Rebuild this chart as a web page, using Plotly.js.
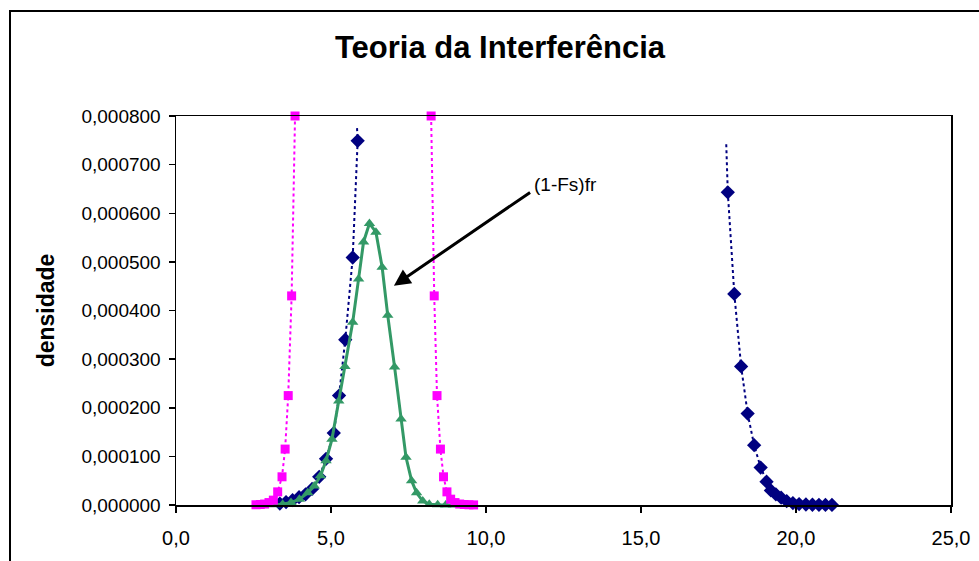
<!DOCTYPE html>
<html>
<head>
<meta charset="utf-8">
<script src="https://cdn.plot.ly/plotly-3.0.1.min.js"></script>
<style>
  html, body { margin: 0; padding: 0; background: #fff; }
  #chart { width: 979px; height: 561px; }
</style>
</head>
<body>
<div id="chart"></div>
<script>
// ---- Data ----
const chartTitle = "Teoria da Interferência";
const yTitle = "densidade";
const annotationText = "(1-Fs)fr";

// Pink series (squares, dotted) - left and right flanks (peak is off-scale)
const pinkLeftX  = [2.58, 2.72, 2.86, 3.00, 3.14, 3.28, 3.42, 3.52, 3.62, 3.73, 3.84];
const pinkLeftY  = [0.0000005, 0.000001, 0.000002, 0.000005, 0.000010, 0.000027, 0.000058, 0.000115, 0.000225, 0.000430, 0.000800];
const pinkRightX = [8.23, 8.33, 8.42, 8.53, 8.63, 8.74, 8.86, 9.00, 9.15, 9.30, 9.45, 9.60];
const pinkRightY = [0.000800, 0.000430, 0.000225, 0.000115, 0.000058, 0.000027, 0.000012, 0.000005, 0.000002, 0.000001, 0.0000005, 0.0000002];

// Navy series (diamonds, dotted) - left flank and right tail
const blueLeftX  = [3.35, 3.55, 3.76, 3.97, 4.18, 4.39, 4.62, 4.84, 5.09, 5.26, 5.46, 5.70, 5.86];
const blueLeftY  = [0.000003, 0.000006, 0.000010, 0.000016, 0.000022, 0.000033, 0.000058, 0.000095, 0.000148, 0.000225, 0.000340, 0.000509, 0.000749];
const blueRightX = [17.80, 18.01, 18.23, 18.44, 18.65, 18.86, 19.05, 19.19, 19.35, 19.52, 19.70, 19.90, 20.10, 20.32, 20.53, 20.74, 20.95, 21.16];
const blueRightY = [0.000643, 0.000434, 0.000285, 0.000188, 0.000123, 0.000077, 0.000048, 0.000030, 0.000022, 0.000015, 0.000008, 0.000004, 0.000002, 0.000001, 0.0000005, 0.0000003, 0.0000002, 0.0000001];
// where the dotted navy line ends above the outermost markers
const blueTopX = [5.84, 17.75];
const blueTopY = [0.000775, 0.000742];

// Green series (1-Fs)fr (triangles, solid)
const greenX = [3.20, 3.44, 3.71, 3.98, 4.25, 4.46, 4.66, 4.84, 5.03, 5.25, 5.45, 5.70, 5.89, 6.05, 6.24, 6.45, 6.65, 6.83, 7.05, 7.26, 7.42, 7.60, 7.76, 7.96, 8.17, 8.44, 8.70, 8.95];
const greenY = [0.0000005, 0.0000015, 0.000005, 0.000012, 0.000025, 0.000039, 0.000060, 0.000091, 0.000135, 0.000214, 0.000285, 0.000376, 0.000465, 0.000541, 0.000579, 0.000561, 0.000489, 0.000390, 0.000284, 0.000177, 0.000098, 0.000050, 0.000025, 0.000008, 0.0000015, 0.0000005, 0.0000002, 0.0000001];

// Axis ticks
const xTicks = [0, 5, 10, 15, 20, 25];
const yTicks = [0, 0.0001, 0.0002, 0.0003, 0.0004, 0.0005, 0.0006, 0.0007, 0.0008];

// Annotation arrow: head and tail (data coords)
const arrowHead = [7.03, 0.000451];
const arrowTail = [11.47, 0.000645];

// ---- Build traces ----
const FONT = "Arial, 'Liberation Sans', sans-serif";
const navy = "#000080", pink = "#FF00FF", green = "#339966";

const traces = [
  { // navy dotted line (with line ends above the markers)
    x: [blueTopX[0]].concat(blueLeftX.slice().reverse(), [null], [blueTopX[1]], blueRightX),
    y: [blueTopY[0]].concat(blueLeftY.slice().reverse(), [null], [blueTopY[1]], blueRightY),
    mode: "lines", type: "scatter", connectgaps: false,
    line: { color: navy, width: 2, dash: "dot" }, hoverinfo: "skip"
  },
  { // navy diamonds
    x: blueLeftX.concat(blueRightX), y: blueLeftY.concat(blueRightY),
    mode: "markers", type: "scatter", cliponaxis: false,
    marker: { symbol: "diamond", size: 11, color: navy }
  },
  { // green
    x: greenX, y: greenY, mode: "lines+markers", type: "scatter", cliponaxis: false,
    line: { color: green, width: 3 },
    marker: { symbol: "triangle-up", size: 10, color: green }
  },
  { // pink
    x: pinkLeftX.concat([null], pinkRightX), y: pinkLeftY.concat([null], pinkRightY),
    mode: "lines+markers", type: "scatter", connectgaps: false, cliponaxis: false,
    line: { color: pink, width: 2, dash: "dot" },
    marker: { symbol: "square", size: 9, color: pink }
  }
];

const layout = {
  width: 979, height: 561,
  margin: { l: 176, r: 28, t: 116, b: 56, pad: 0 },
  paper_bgcolor: "#ffffff", plot_bgcolor: "#ffffff",
  showlegend: false,
  separators: ",.",
  font: { family: FONT, size: 19, color: "#000" },
  title: {
    text: "<b>" + chartTitle + "</b>",
    font: { family: FONT, size: 31, color: "#000" },
    xref: "container", yref: "container",
    x: 500 / 979, y: 1 - 47 / 561, xanchor: "center", yanchor: "middle"
  },
  xaxis: {
    range: [0, 25], tickvals: xTicks, tickformat: ".1f",
    showgrid: false, zeroline: false,
    showline: true, linecolor: "#000", linewidth: 1.5, mirror: true,
    ticks: "outside", ticklen: 6, tickwidth: 1.5, tickcolor: "#000",
    ticklabelstandoff: 8,
    tickfont: { family: FONT, size: 20, color: "#000" }
  },
  yaxis: {
    range: [0, 0.0008], tickvals: yTicks, tickformat: ".6f",
    showgrid: false, zeroline: false,
    showline: true, linecolor: "#000", linewidth: 1.5, mirror: true,
    ticks: "outside", ticklen: 6, tickwidth: 1.5, tickcolor: "#000",
    ticklabelstandoff: 4,
    tickfont: { family: FONT, size: 19, color: "#000" },
    title: { text: "<b>" + yTitle + "</b>", font: { family: FONT, size: 23, color: "#000" }, standoff: 20 }
  },
  annotations: [
    {
      x: arrowHead[0], y: arrowHead[1], xref: "x", yref: "y",
      ax: arrowTail[0], ay: arrowTail[1], axref: "x", ayref: "y",
      text: "", showarrow: true, arrowhead: 2, arrowsize: 1.1, arrowwidth: 3, arrowcolor: "#000"
    },
    {
      x: arrowTail[0] + 0.02, y: arrowTail[1] + 0.000014, xref: "x", yref: "y",
      text: annotationText, showarrow: false, xanchor: "left", yanchor: "middle",
      font: { family: FONT, size: 19, color: "#000" }
    }
  ],
  shapes: [
    { // outer chart frame
      type: "rect", xref: "paper", yref: "paper",
      x0: (10 - 176) / 775, x1: 1.2, y0: -0.3, y1: (505 - 11) / 389,
      line: { color: "#000", width: 2 }, fillcolor: "rgba(0,0,0,0)", layer: "below"
    }
  ]
};

Plotly.newPlot("chart", traces, layout, { staticPlot: true, displayModeBar: false });
</script>
</body>
</html>
